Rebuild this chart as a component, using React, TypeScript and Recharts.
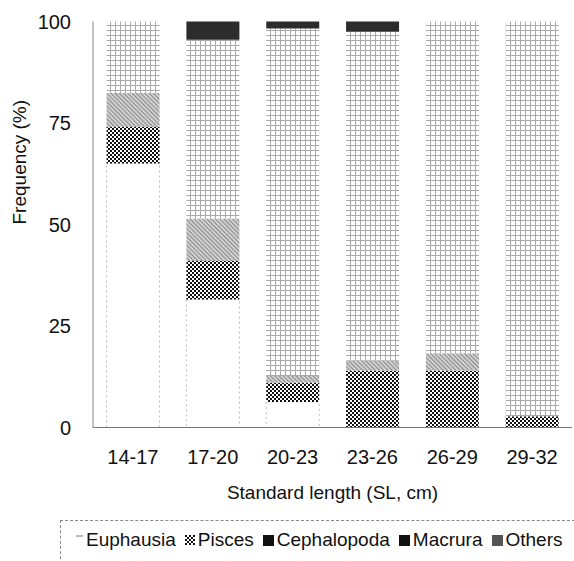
import { BarChart, Bar, XAxis, YAxis } from 'recharts';

const categories = ['14-17', '17-20', '20-23', '23-26', '26-29', '29-32'];
const euphausia = [65, 31.5, 6.3, 0, 0, 0];
const pisces = [9, 9.5, 4.7, 14, 14, 2.8];
const cephalopoda = [8.4, 10.5, 1.7, 2.5, 4.3, 0];
const macrura = [17.6, 44, 85.6, 81, 81.7, 97.2];
const others = [0, 4.5, 1.7, 2.5, 0, 0];
const yTicks = [0, 25, 50, 75, 100];

const font = '"Liberation Sans", Arial, sans-serif';

const data = categories.map((name, i) => ({
  name,
  euphausia: euphausia[i],
  pisces: pisces[i],
  cephalopoda: cephalopoda[i],
  macrura: macrura[i],
  others: others[i],
}));

// legend swatches, drawn like the scanned key
const LegendIcon = ({ kind }: { kind: string }) => {
  if (kind === 'euphausia') {
    return (
      <svg width={7} height={10} style={{ marginRight: 3 }}>
        <line x1={0} y1={1} x2={7} y2={1} stroke="#777" strokeWidth={1} />
      </svg>
    );
  }
  if (kind === 'pisces') {
    return (
      <svg width={10} height={10} style={{ marginRight: 3 }}>
        <rect width={10} height={10} fill="url(#piscesPat)" />
      </svg>
    );
  }
  const fill = kind === 'others' ? '#555' : '#111';
  return (
    <svg width={11} height={11} style={{ marginRight: 3 }}>
      <rect width={11} height={11} fill={fill} />
    </svg>
  );
};

const legendItems = [
  { key: 'euphausia', label: 'Euphausia' },
  { key: 'pisces', label: 'Pisces' },
  { key: 'cephalopoda', label: 'Cephalopoda' },
  { key: 'macrura', label: 'Macrura' },
  { key: 'others', label: 'Others' },
];

export default function App() {
  return (
    <div style={{ position: 'absolute', left: 0, top: 0, width: 574, height: 561, background: '#fff', overflow: 'hidden' }}>
      <BarChart
        width={574}
        height={561}
        data={data}
        margin={{ top: 21.5, right: 2, left: 0, bottom: 53.5 }}
        barCategoryGap="17%"
        style={{ fontFamily: font }}
      >
        <defs>
          <pattern id="piscesPat" width={4} height={4} patternUnits="userSpaceOnUse">
            <rect width={4} height={4} fill="#fff" />
            <rect x={0} y={0} width={2} height={2} fill="#111" />
            <rect x={2} y={2} width={2} height={2} fill="#111" />
          </pattern>
          <pattern id="cephPat" width={3} height={3} patternUnits="userSpaceOnUse" patternTransform="rotate(-45)">
            <rect width={3} height={3} fill="#d0d0d0" />
            <line x1={0} y1={0} x2={0} y2={3} stroke="#5a5a5a" strokeWidth={1.2} />
          </pattern>
          <pattern id="macruraPat" width={5} height={5} patternUnits="userSpaceOnUse">
            <rect width={5} height={5} fill="#fff" />
            <line x1={0} y1={0.5} x2={5} y2={0.5} stroke="#aaa" strokeWidth={1} />
            <line x1={0.5} y1={0} x2={0.5} y2={5} stroke="#aaa" strokeWidth={1} />
          </pattern>
        </defs>
        <XAxis
          dataKey="name"
          height={80}
          tickLine={false}
          tickSize={0}
          tickMargin={22}
          axisLine={{ stroke: '#777' }}
          tick={{ fill: '#111', fontSize: 20, fontFamily: font }}
          label={{ value: 'Standard length (SL, cm)', position: 'insideBottom', offset: 9, fill: '#111', fontSize: 19, fontFamily: font }}
        />
        <YAxis
          width={93}
          domain={[0, 100]}
          ticks={yTicks}
          tickLine={false}
          tickSize={0}
          tickMargin={22}
          axisLine={{ stroke: '#888' }}
          tick={{ fill: '#111', fontSize: 20, fontFamily: font }}
          label={{ value: 'Frequency (%)', angle: -90, position: 'insideLeft', offset: 19, fill: '#111', fontSize: 19, fontFamily: font }}
        />
        <Bar dataKey="euphausia" stackId="a" fill="#fff" stroke="#bbb" strokeDasharray="2 3" isAnimationActive={false} />
        <Bar dataKey="pisces" stackId="a" fill="url(#piscesPat)" isAnimationActive={false} />
        <Bar dataKey="cephalopoda" stackId="a" fill="url(#cephPat)" isAnimationActive={false} />
        <Bar dataKey="macrura" stackId="a" fill="url(#macruraPat)" isAnimationActive={false} />
        <Bar dataKey="others" stackId="a" fill="#2c2c2c" isAnimationActive={false} />
      </BarChart>
      <div
        style={{
          position: 'absolute',
          left: 60,
          top: 520,
          width: 530,
          height: 60,
          borderTop: '1px dashed #888',
          borderLeft: '1px dashed #888',
          boxSizing: 'border-box',
          display: 'flex',
          alignItems: 'flex-start',
          paddingLeft: 15,
          paddingTop: 8,
          fontFamily: font,
          fontSize: 19,
          color: '#111',
          whiteSpace: 'nowrap',
        }}
      >
        {legendItems.map((it) => (
          <span key={it.key} style={{ display: 'inline-flex', alignItems: 'center', marginRight: 9 }}>
            <LegendIcon kind={it.key} />
            {it.label}
          </span>
        ))}
      </div>
    </div>
  );
}
